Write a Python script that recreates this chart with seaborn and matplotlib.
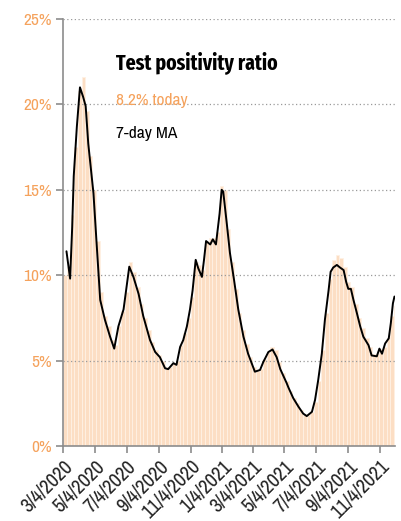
import pandas as pd
import seaborn as sns
import matplotlib.pyplot as plt

# ---- data ----
start = pd.Timestamp("2020-03-04")

# weekly test positivity (%), one value per week starting 3/4/2020
weekly_ratio = [
    10.0, 10.5, 13.5, 17.5, 20.8, 21.6, 19.6, 17.0, 15.0, 12.0,
    9.0, 7.6, 7.0, 6.2, 5.9, 7.0, 7.9, 9.0, 10.8, 10.2,
    9.3, 8.3, 7.5, 6.8, 6.1, 5.6, 5.3, 5.0, 4.6, 4.6,
    4.8, 5.0, 5.9, 6.6, 7.5, 8.7, 10.8, 10.6, 10.3, 12.0,
    12.2, 12.2, 12.5, 15.2, 15.0, 12.7, 10.8, 9.2, 7.8, 6.8,
    6.0, 5.2, 4.6, 4.4, 4.5, 5.1, 5.5, 5.8, 5.6, 4.9,
    4.3, 3.8, 3.2, 2.8, 2.5, 2.1, 1.9, 1.8, 2.0, 2.6,
    3.8, 5.6, 7.8, 9.8, 10.9, 11.2, 11.0, 10.5, 9.6, 9.3,
    8.3, 7.5, 6.9, 6.3, 5.8, 5.4, 5.4, 5.7, 5.8, 6.3,
    7.6, 8.2,
]

# 7-day moving average, traced points (days since 3/4/2020, %)
ma_days = [
    6, 13, 17, 20, 26, 32, 38, 43, 48, 58, 64, 71, 80, 90, 98, 106, 116,
    127, 135, 145, 154, 167, 177, 186, 196, 202, 212, 218, 225, 231, 238,
    244, 249, 255, 260, 267, 271, 275, 279, 283, 288, 294, 301, 305, 308,
    315, 321, 329, 337, 347, 356, 369, 379, 385, 395, 403, 411, 418, 424,
    430, 434, 443, 453, 462, 469, 479, 485, 491, 498, 504, 511, 515, 520,
    527, 533, 540, 545, 549, 554, 559, 565, 572, 578, 588, 594, 604, 609,
    614, 620, 627, 631, 635, 638,
]
ma_vals = [
    11.4, 9.8, 12.8, 15.8, 18.7, 21.0, 20.45, 19.9, 17.7, 14.8, 11.9, 8.55,
    7.4, 6.4, 5.7, 7.0, 8.0, 10.5, 9.9, 8.9, 7.6, 6.2, 5.5, 5.2, 4.55, 4.5,
    4.85, 4.75, 5.8, 6.2, 7.0, 8.0, 9.1, 10.9, 10.4, 9.9, 10.9, 12.0, 11.9,
    11.8, 12.1, 11.8, 13.6, 15.0, 14.9, 13.0, 11.3, 9.7, 8.0, 6.4, 5.4,
    4.35, 4.45, 4.9, 5.5, 5.65, 5.2, 4.5, 4.1, 3.7, 3.4, 2.8, 2.3, 1.9,
    1.75, 2.0, 2.7, 3.85, 5.4, 7.4, 9.1, 10.2, 10.45, 10.6, 10.45, 10.3,
    9.6, 9.2, 9.2, 8.55, 7.85, 7.0, 6.4, 5.9, 5.3, 5.25, 5.7, 5.4, 6.0,
    6.3, 7.2, 8.35, 8.75,
]

today_value = "8.2%"
tick_dates = ["3/4/2020", "5/4/2020", "7/4/2020", "9/4/2020", "11/4/2020",
              "1/4/2021", "3/4/2021", "5/4/2021", "7/4/2021", "9/4/2021",
              "11/4/2021"]
y_ticks = [0, 5, 10, 15, 20, 25]
y_labels = ["0%", "5%", "10%", "15%", "20%", "25%"]

orange = "#f5a25c"
bar_color = "#fcdec4"

# ---- style ----
sns.set_style("white")
plt.rcParams["font.family"] = ["Archivo Narrow", "DejaVu Sans"]

fig = plt.figure(figsize=(4.01, 5.21), dpi=100)
ax = fig.add_axes([0.158, 0.144, 0.827, 0.8195])

week_dates = pd.date_range(start, periods=len(weekly_ratio), freq="7D")
bars = pd.DataFrame({
    "day": (week_dates - start).days + 3.5,
    "ratio": weekly_ratio,
})
sns.barplot(data=bars, x="day", y="ratio", native_scale=True, width=1.0,
            color=bar_color, edgecolor="#fff1e4", linewidth=0.6,
            errorbar=None, saturation=1, ax=ax, zorder=1)

ma = pd.DataFrame({"day": ma_days, "ma": ma_vals})
sns.lineplot(data=ma, x="day", y="ma", color="black", linewidth=1.4,
             ax=ax, zorder=3)

# ---- axes ----
ax.set_xlim(0, 639)
ax.set_ylim(0, 25)
ax.set_axisbelow(False)
ax.yaxis.grid(True, linestyle=(0, (1, 2)), color="#9a9a9a", linewidth=0.9)
ax.xaxis.grid(False)

tick_pos = (pd.to_datetime(tick_dates, format="%m/%d/%Y") - start).days
ax.set_xticks(tick_pos)
ax.set_xticklabels(tick_dates, rotation=45, ha="right",
                   rotation_mode="anchor", fontsize=14.5, color="#222222")
ax.set_yticks(y_ticks)
ax.set_yticklabels(y_labels, fontsize=12.5, color=orange)
ax.tick_params(axis="both", length=5, width=1.2, color="#8c8c8c",
               left=True, bottom=True, pad=3)
ax.set_xlabel("")
ax.set_ylabel("")

for side in ["top", "right"]:
    ax.spines[side].set_visible(False)
for side in ["left", "bottom"]:
    ax.spines[side].set_color("#8c8c8c")
    ax.spines[side].set_linewidth(1.2)

# ---- titles ----
ax.text(0.159, 0.899, "Test positivity ratio", transform=ax.transAxes,
        family=["Fira Sans Extra Condensed", "Roboto Condensed", "DejaVu Sans"],
        fontsize=15.5, fontweight="bold", color="black",
        va="center", ha="left")
ax.text(0.159, 0.81, today_value + " today", transform=ax.transAxes,
        fontsize=12.5, color=orange, va="center", ha="left")
ax.text(0.159, 0.733, "7-day MA", transform=ax.transAxes,
        fontsize=12.5, color="black", va="center", ha="left")

fig.savefig("out.png", dpi=100)
